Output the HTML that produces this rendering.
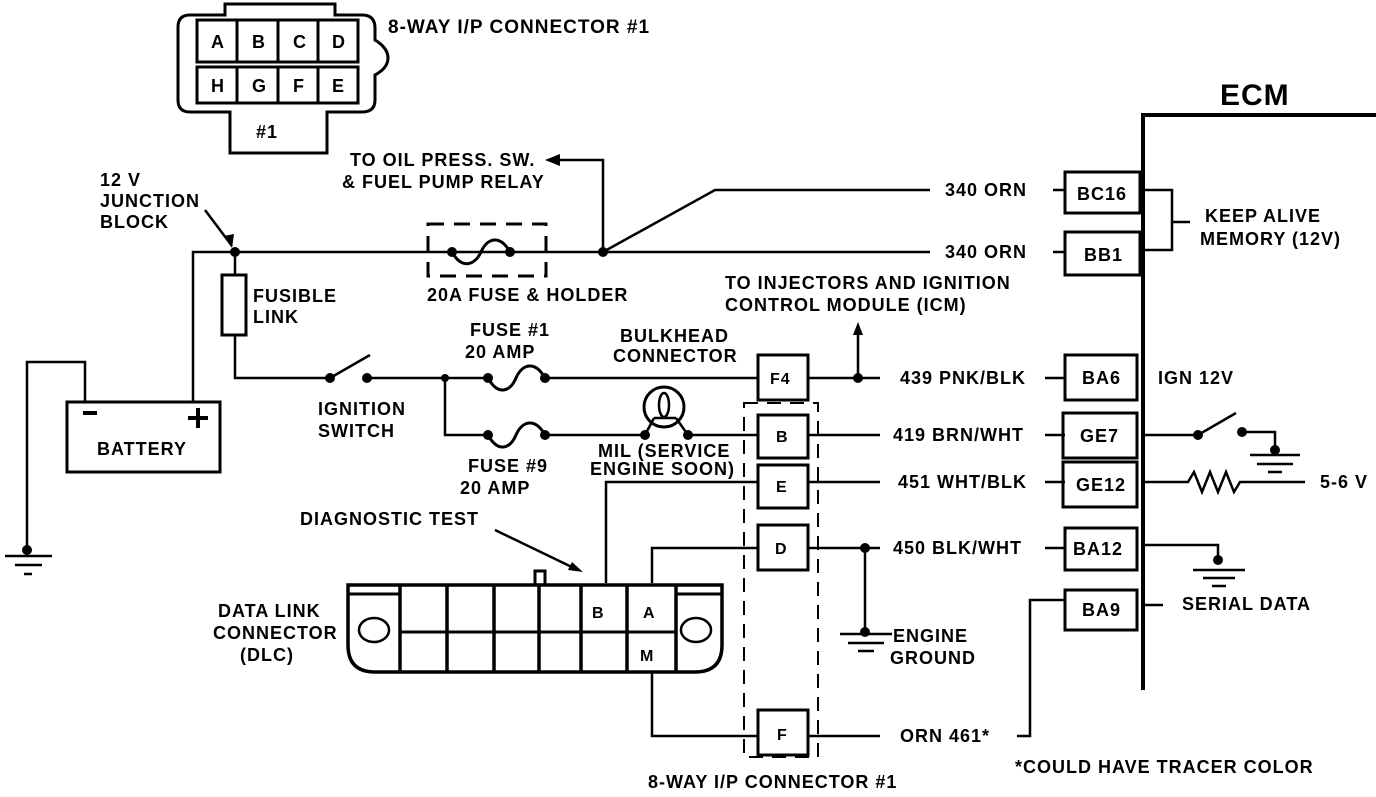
<!DOCTYPE html>
<html><head><meta charset="utf-8"><style>
html,body{margin:0;padding:0;background:#fff}
svg text{font-family:"Liberation Sans",sans-serif;font-weight:bold;font-size:18px;letter-spacing:1px;fill:#000}
</style></head><body>
<svg width="1376" height="792" viewBox="0 0 1376 792" xmlns="http://www.w3.org/2000/svg">
<g fill="none" stroke="#000" stroke-width="2.5">
<path d="M225,15 L225,4 L335,4 L335,15 L362,15 Q375,15 375,28 L375,40 Q388,48 388,58 Q388,68 375,75 L375,100 Q375,112 362,112 L327,112 L327,153 L230,153 L230,112 L190,112 Q178,112 178,100 L178,27 Q178,15 190,15 Z" stroke-width="3"/>
<rect x="197" y="20" width="161" height="42" stroke-width="3"/>
<rect x="197" y="67" width="161" height="36" stroke-width="3"/>
<path d="M237,20V62M278,20V62M318,20V62M237,67V103M278,67V103M318,67V103" stroke-width="3"/>
<path d="M603,252V160H550"/>
<path d="M205,210L232,246"/>
<path d="M193,402V252H930M603,252L715,190H930M1053,190H1065M1053,252H1065"/>
<rect x="428" y="224" width="118" height="52" stroke-dasharray="16,10" stroke-width="3"/>
<path d="M452,252 C462,270 475,265 481,252 C487,238 500,234 510,252" stroke-width="3"/>
<rect x="67" y="402" width="153" height="70" stroke-width="3"/>
<path d="M85,402V362H27V552"/>
<path d="M5,556H52M15,565H42M24,574H32"/>
<path d="M235,252V275M235,335V378H330M370,355L330,378M367,378H445"/>
<rect x="222" y="275" width="24" height="60" stroke-width="3"/>
<path d="M445,378H488M545,378H758"/>
<path d="M488,378 C498,396 510,392 516,378 C522,364 535,360 545,378" stroke-width="3"/>
<path d="M445,378V435H488M545,435H645M688,435H758"/>
<path d="M488,435 C498,453 510,449 516,435 C522,421 535,417 545,435" stroke-width="3"/>
<circle cx="664" cy="407" r="20" stroke-width="3"/>
<ellipse cx="664" cy="405" rx="5" ry="12"/>
<path d="M645,435L654,418M688,435L676,418M654,418H676"/>
<rect x="758" y="355" width="50" height="45" stroke-width="3"/>
<path d="M808,378H880M858,378V330"/>
<rect x="744" y="403" width="74" height="354" stroke-dasharray="14,9" stroke-width="2"/>
<rect x="758" y="415" width="50" height="43" stroke-width="3"/>
<rect x="758" y="465" width="50" height="43" stroke-width="3"/>
<rect x="758" y="525" width="50" height="45" stroke-width="3"/>
<rect x="758" y="710" width="50" height="45" stroke-width="3"/>
<path d="M808,435H880M808,482H880M808,548H880M865,548V630M808,736H880"/>
<path d="M840,634H892M848,643H884M858,651H874"/>
<path d="M1045,378H1065M1045,435H1065M1045,482H1065M1045,548H1065"/>
<path d="M1017,736H1030V600H1065"/>
<path d="M1143,690V115H1376" stroke-width="4"/>
<rect x="1065" y="172" width="75" height="41" stroke-width="3"/>
<rect x="1065" y="232" width="75" height="43" stroke-width="3"/>
<rect x="1065" y="355" width="72" height="45" stroke-width="3"/>
<rect x="1063" y="413" width="74" height="45" stroke-width="3"/>
<rect x="1063" y="462" width="74" height="45" stroke-width="3"/>
<rect x="1065" y="528" width="72" height="42" stroke-width="3"/>
<rect x="1065" y="590" width="72" height="40" stroke-width="3"/>
<path d="M1143,190H1172V250H1143M1172,222H1190"/>
<path d="M1143,435H1198M1198,435L1236,413M1242,432H1275V448"/>
<path d="M1250,455H1300M1257,464H1293M1268,472H1282"/>
<path d="M1143,482H1188L1194,472L1202,492L1210,472L1218,492L1226,472L1234,492L1240,482H1305"/>
<path d="M1143,545H1218V558"/>
<path d="M1193,570H1245M1203,578H1235M1212,586H1226"/>
<path d="M1143,605H1163"/>
<path d="M348,585H722V645Q722,672 695,672H375Q348,672 348,645Z" stroke-width="3.5"/>
<path d="M348,594H400M676,594H722M400,632H676" stroke-width="3"/>
<path d="M400,585V672M447,585V672M494,585V672M539,585V672M581,585V672M627,585V672M676,585V672" stroke-width="3.5"/>
<path d="M535,585V571H545V585" stroke-width="3"/>
<ellipse cx="374" cy="630" rx="15" ry="12"/>
<ellipse cx="696" cy="630" rx="15" ry="12"/>
<path d="M606,583V482H758M652,583V548H758M652,672V736H758"/>
<path d="M495,530L578,570"/>
</g>
<g fill="#000">
<circle cx="235" cy="252" r="5"/><circle cx="603" cy="252" r="5"/>
<circle cx="452" cy="252" r="5"/><circle cx="510" cy="252" r="5"/>
<circle cx="330" cy="378" r="5"/><circle cx="367" cy="378" r="5"/><circle cx="445" cy="378" r="4"/>
<circle cx="488" cy="378" r="5"/><circle cx="545" cy="378" r="5"/>
<circle cx="488" cy="435" r="5"/><circle cx="545" cy="435" r="5"/>
<circle cx="645" cy="435" r="5"/><circle cx="688" cy="435" r="5"/>
<circle cx="858" cy="378" r="5"/><circle cx="865" cy="548" r="5"/><circle cx="865" cy="632" r="5"/>
<circle cx="27" cy="550" r="5"/>
<circle cx="1198" cy="435" r="5"/><circle cx="1242" cy="432" r="5"/><circle cx="1275" cy="450" r="5"/>
<circle cx="1218" cy="560" r="5"/>
<path d="M545,160L560,154L560,166Z"/>
<path d="M232,248L224,236L234,234Z"/>
<path d="M858,322L853,335L863,335Z"/>
<path d="M583,572L568,570L572,562Z"/>
<rect x="83" y="411" width="14" height="4"/>
<rect x="188" y="416" width="20" height="4"/><rect x="196" y="408" width="4" height="20"/>
</g>
<text x="97" y="455">BATTERY</text>
<g style="font-size:13px;letter-spacing:0">
<text x="211" y="48">A</text><text x="252" y="48">B</text><text x="293" y="48">C</text><text x="332" y="48">D</text>
<text x="211" y="92">H</text><text x="252" y="92">G</text><text x="293" y="92">F</text><text x="332" y="92">E</text>
</g>
<text x="256" y="138">#1</text>
<text x="388" y="33" style="font-size:19px">8-WAY I/P CONNECTOR #1</text>
<text x="350" y="166">TO OIL PRESS. SW.</text>
<text x="342" y="188">&amp; FUEL PUMP RELAY</text>
<text x="100" y="186">12 V</text><text x="100" y="207">JUNCTION</text><text x="100" y="228">BLOCK</text>
<text x="427" y="301">20A FUSE &amp; HOLDER</text>
<text x="253" y="302">FUSIBLE</text><text x="253" y="323">LINK</text>
<text x="470" y="336">FUSE #1</text><text x="465" y="358">20 AMP</text>
<text x="318" y="415">IGNITION</text><text x="318" y="437">SWITCH</text>
<text x="468" y="472">FUSE #9</text><text x="460" y="494">20 AMP</text>
<text x="620" y="342">BULKHEAD</text><text x="613" y="362">CONNECTOR</text>
<text x="725" y="289">TO INJECTORS AND IGNITION</text>
<text x="725" y="311">CONTROL MODULE (ICM)</text>
<text x="598" y="457">MIL (SERVICE</text><text x="590" y="475">ENGINE SOON)</text>
<text x="300" y="525">DIAGNOSTIC TEST</text>
<text x="218" y="617">DATA LINK</text><text x="213" y="639">CONNECTOR</text><text x="240" y="661">(DLC)</text>
<text x="592" y="618" style="font-size:16px">B</text><text x="643" y="618" style="font-size:16px">A</text><text x="640" y="661" style="font-size:16px">M</text>
<text x="770" y="384" style="font-size:16px">F4</text>
<text x="776" y="442" style="font-size:16px">B</text><text x="776" y="492" style="font-size:16px">E</text>
<text x="775" y="554" style="font-size:16px">D</text><text x="777" y="740" style="font-size:16px">F</text>
<text x="945" y="196">340  ORN</text><text x="945" y="258">340  ORN</text>
<text x="900" y="384">439 PNK/BLK</text><text x="893" y="441">419 BRN/WHT</text>
<text x="898" y="488">451 WHT/BLK</text><text x="893" y="554">450 BLK/WHT</text>
<text x="893" y="642">ENGINE</text><text x="890" y="664">GROUND</text>
<text x="900" y="742">ORN 461*</text>
<text x="648" y="788">8-WAY I/P CONNECTOR #1</text>
<text x="1015" y="773">*COULD HAVE TRACER COLOR</text>
<text x="1220" y="105" style="font-size:30px">ECM</text>
<text x="1077" y="200">BC16</text><text x="1084" y="261">BB1</text>
<text x="1082" y="384">BA6</text><text x="1080" y="442">GE7</text>
<text x="1076" y="491">GE12</text><text x="1073" y="555">BA12</text><text x="1082" y="616">BA9</text>
<text x="1205" y="222">KEEP ALIVE</text><text x="1200" y="245">MEMORY (12V)</text>
<text x="1158" y="384">IGN 12V</text>
<text x="1320" y="488">5-6 V</text>
<text x="1182" y="610">SERIAL DATA</text>
</svg>
</body></html>
